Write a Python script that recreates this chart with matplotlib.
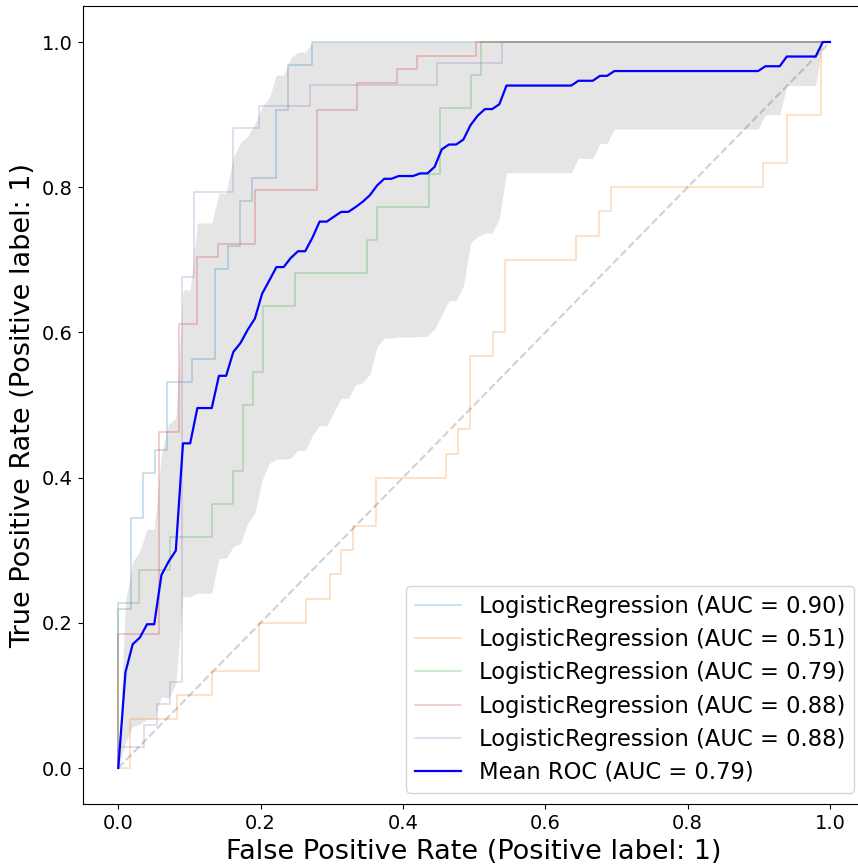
import numpy as np
import matplotlib
matplotlib.use("Agg")
import matplotlib.pyplot as plt

# ROC points (fpr, tpr) for each fold
fold1_fpr = [0, 0, 0.018, 0.018, 0.0345, 0.0345, 0.051, 0.051, 0.0685, 0.0685, 0.103, 0.103,
             0.136, 0.136, 0.154, 0.154, 0.171, 0.171, 0.188, 0.188, 0.221, 0.221, 0.239, 0.239,
             0.272, 0.272, 1.0]
fold1_tpr = [0, 0.219, 0.219, 0.344, 0.344, 0.406, 0.406, 0.438, 0.438, 0.531, 0.531, 0.563,
             0.563, 0.688, 0.688, 0.719, 0.719, 0.781, 0.781, 0.813, 0.813, 0.906, 0.906, 0.969,
             0.969, 1.0, 1.0]

fold2_fpr = [0, 0.017, 0.017, 0.083, 0.083, 0.132, 0.132, 0.198, 0.198, 0.264, 0.264, 0.297,
             0.297, 0.313, 0.313, 0.330, 0.330, 0.362, 0.362, 0.461, 0.461, 0.478, 0.478, 0.494,
             0.494, 0.527, 0.527, 0.543, 0.543, 0.643, 0.643, 0.676, 0.676, 0.692, 0.692, 0.906,
             0.906, 0.939, 0.939, 0.988, 0.988, 1.0]
fold2_tpr = [0, 0, 0.067, 0.067, 0.1, 0.1, 0.133, 0.133, 0.2, 0.2, 0.233, 0.233, 0.267, 0.267,
             0.3, 0.3, 0.333, 0.333, 0.4, 0.4, 0.433, 0.433, 0.467, 0.467, 0.567, 0.567, 0.6, 0.6,
             0.7, 0.7, 0.733, 0.733, 0.767, 0.767, 0.8, 0.8, 0.833, 0.833, 0.9, 0.9, 1.0, 1.0]

fold3_fpr = [0, 0, 0.029, 0.029, 0.073, 0.073, 0.132, 0.132, 0.161, 0.161, 0.175, 0.175, 0.189,
             0.189, 0.204, 0.204, 0.248, 0.248, 0.350, 0.350, 0.364, 0.364, 0.437, 0.437, 0.452,
             0.452, 0.495, 0.495, 0.510, 0.510, 1.0]
fold3_tpr = [0, 0.227, 0.227, 0.273, 0.273, 0.318, 0.318, 0.364, 0.364, 0.409, 0.409, 0.5, 0.5,
             0.545, 0.545, 0.636, 0.636, 0.682, 0.682, 0.727, 0.727, 0.773, 0.773, 0.818, 0.818,
             0.909, 0.909, 0.955, 0.955, 1.0, 1.0]

fold4_fpr = [0, 0, 0.057, 0.057, 0.085, 0.085, 0.111, 0.111, 0.140, 0.140, 0.192, 0.192, 0.279,
             0.279, 0.335, 0.335, 0.391, 0.391, 0.419, 0.419, 0.502, 0.502, 1.0]
fold4_tpr = [0, 0.185, 0.185, 0.463, 0.463, 0.611, 0.611, 0.704, 0.704, 0.722, 0.722, 0.796,
             0.796, 0.907, 0.907, 0.944, 0.944, 0.963, 0.963, 0.981, 0.981, 1.0, 1.0]

fold5_fpr = [0, 0, 0.036, 0.036, 0.054, 0.054, 0.072, 0.072, 0.090, 0.090, 0.107, 0.107, 0.161,
             0.161, 0.198, 0.198, 0.270, 0.270, 0.448, 0.448, 0.539, 0.539, 1.0]
fold5_tpr = [0, 0.029, 0.029, 0.059, 0.059, 0.088, 0.088, 0.118, 0.118, 0.676, 0.676, 0.794,
             0.794, 0.882, 0.882, 0.912, 0.912, 0.941, 0.941, 0.971, 0.971, 1.0, 1.0]

fold_aucs = [0.90, 0.51, 0.79, 0.88, 0.88]
mean_auc = 0.79
model_name = "LogisticRegression"

folds = [(fold1_fpr, fold1_tpr), (fold2_fpr, fold2_tpr), (fold3_fpr, fold3_tpr),
         (fold4_fpr, fold4_tpr), (fold5_fpr, fold5_tpr)]

fig = plt.figure(figsize=(8.58, 8.67), dpi=100)
# axes extends slightly past the right edge of the image, as in the reference
ax = fig.add_axes([82.7 / 858, (867 - 804.3) / 867, 782.9 / 858, 798.6 / 867])

mean_fpr = np.linspace(0, 1, 100)
tprs = []
for i, (fpr, tpr) in enumerate(folds):
    ax.plot(fpr, tpr, color=f"C{i}", alpha=0.3, lw=1.1,
            label=f"{model_name} (AUC = {fold_aucs[i]:.2f})")
    it = np.interp(mean_fpr, fpr, tpr)
    it[0] = 0.0
    tprs.append(it)

ax.plot([0, 1], [0, 1], linestyle="--", color="k", alpha=0.18, lw=1.5)

mean_tpr = np.mean(tprs, axis=0)
mean_tpr[-1] = 1.0
std_tpr = np.std(tprs, axis=0)
upper = np.minimum(mean_tpr + std_tpr, 1)
lower = np.maximum(mean_tpr - std_tpr, 0)
ax.fill_between(mean_fpr, lower, upper, color="grey", alpha=0.2, lw=0)
ax.plot(mean_fpr, mean_tpr, color="b", lw=1.6, label=f"Mean ROC (AUC = {mean_auc:.2f})")

ax.set_xlim(-0.05, 1.05)
ax.set_ylim(-0.05, 1.05)
ax.set_xticks([0, 0.2, 0.4, 0.6, 0.8, 1.0])
ax.set_yticks([0, 0.2, 0.4, 0.6, 0.8, 1.0])
ax.tick_params(labelsize=14)
ax.set_xlabel("False Positive Rate (Positive label: 1)", fontsize=19.5)
ax.set_ylabel("True Positive Rate (Positive label: 1)", fontsize=19.5)
ax.legend(loc="lower right", fontsize=16.3, labelspacing=0.45)

fig.savefig("out.png", dpi=100)
